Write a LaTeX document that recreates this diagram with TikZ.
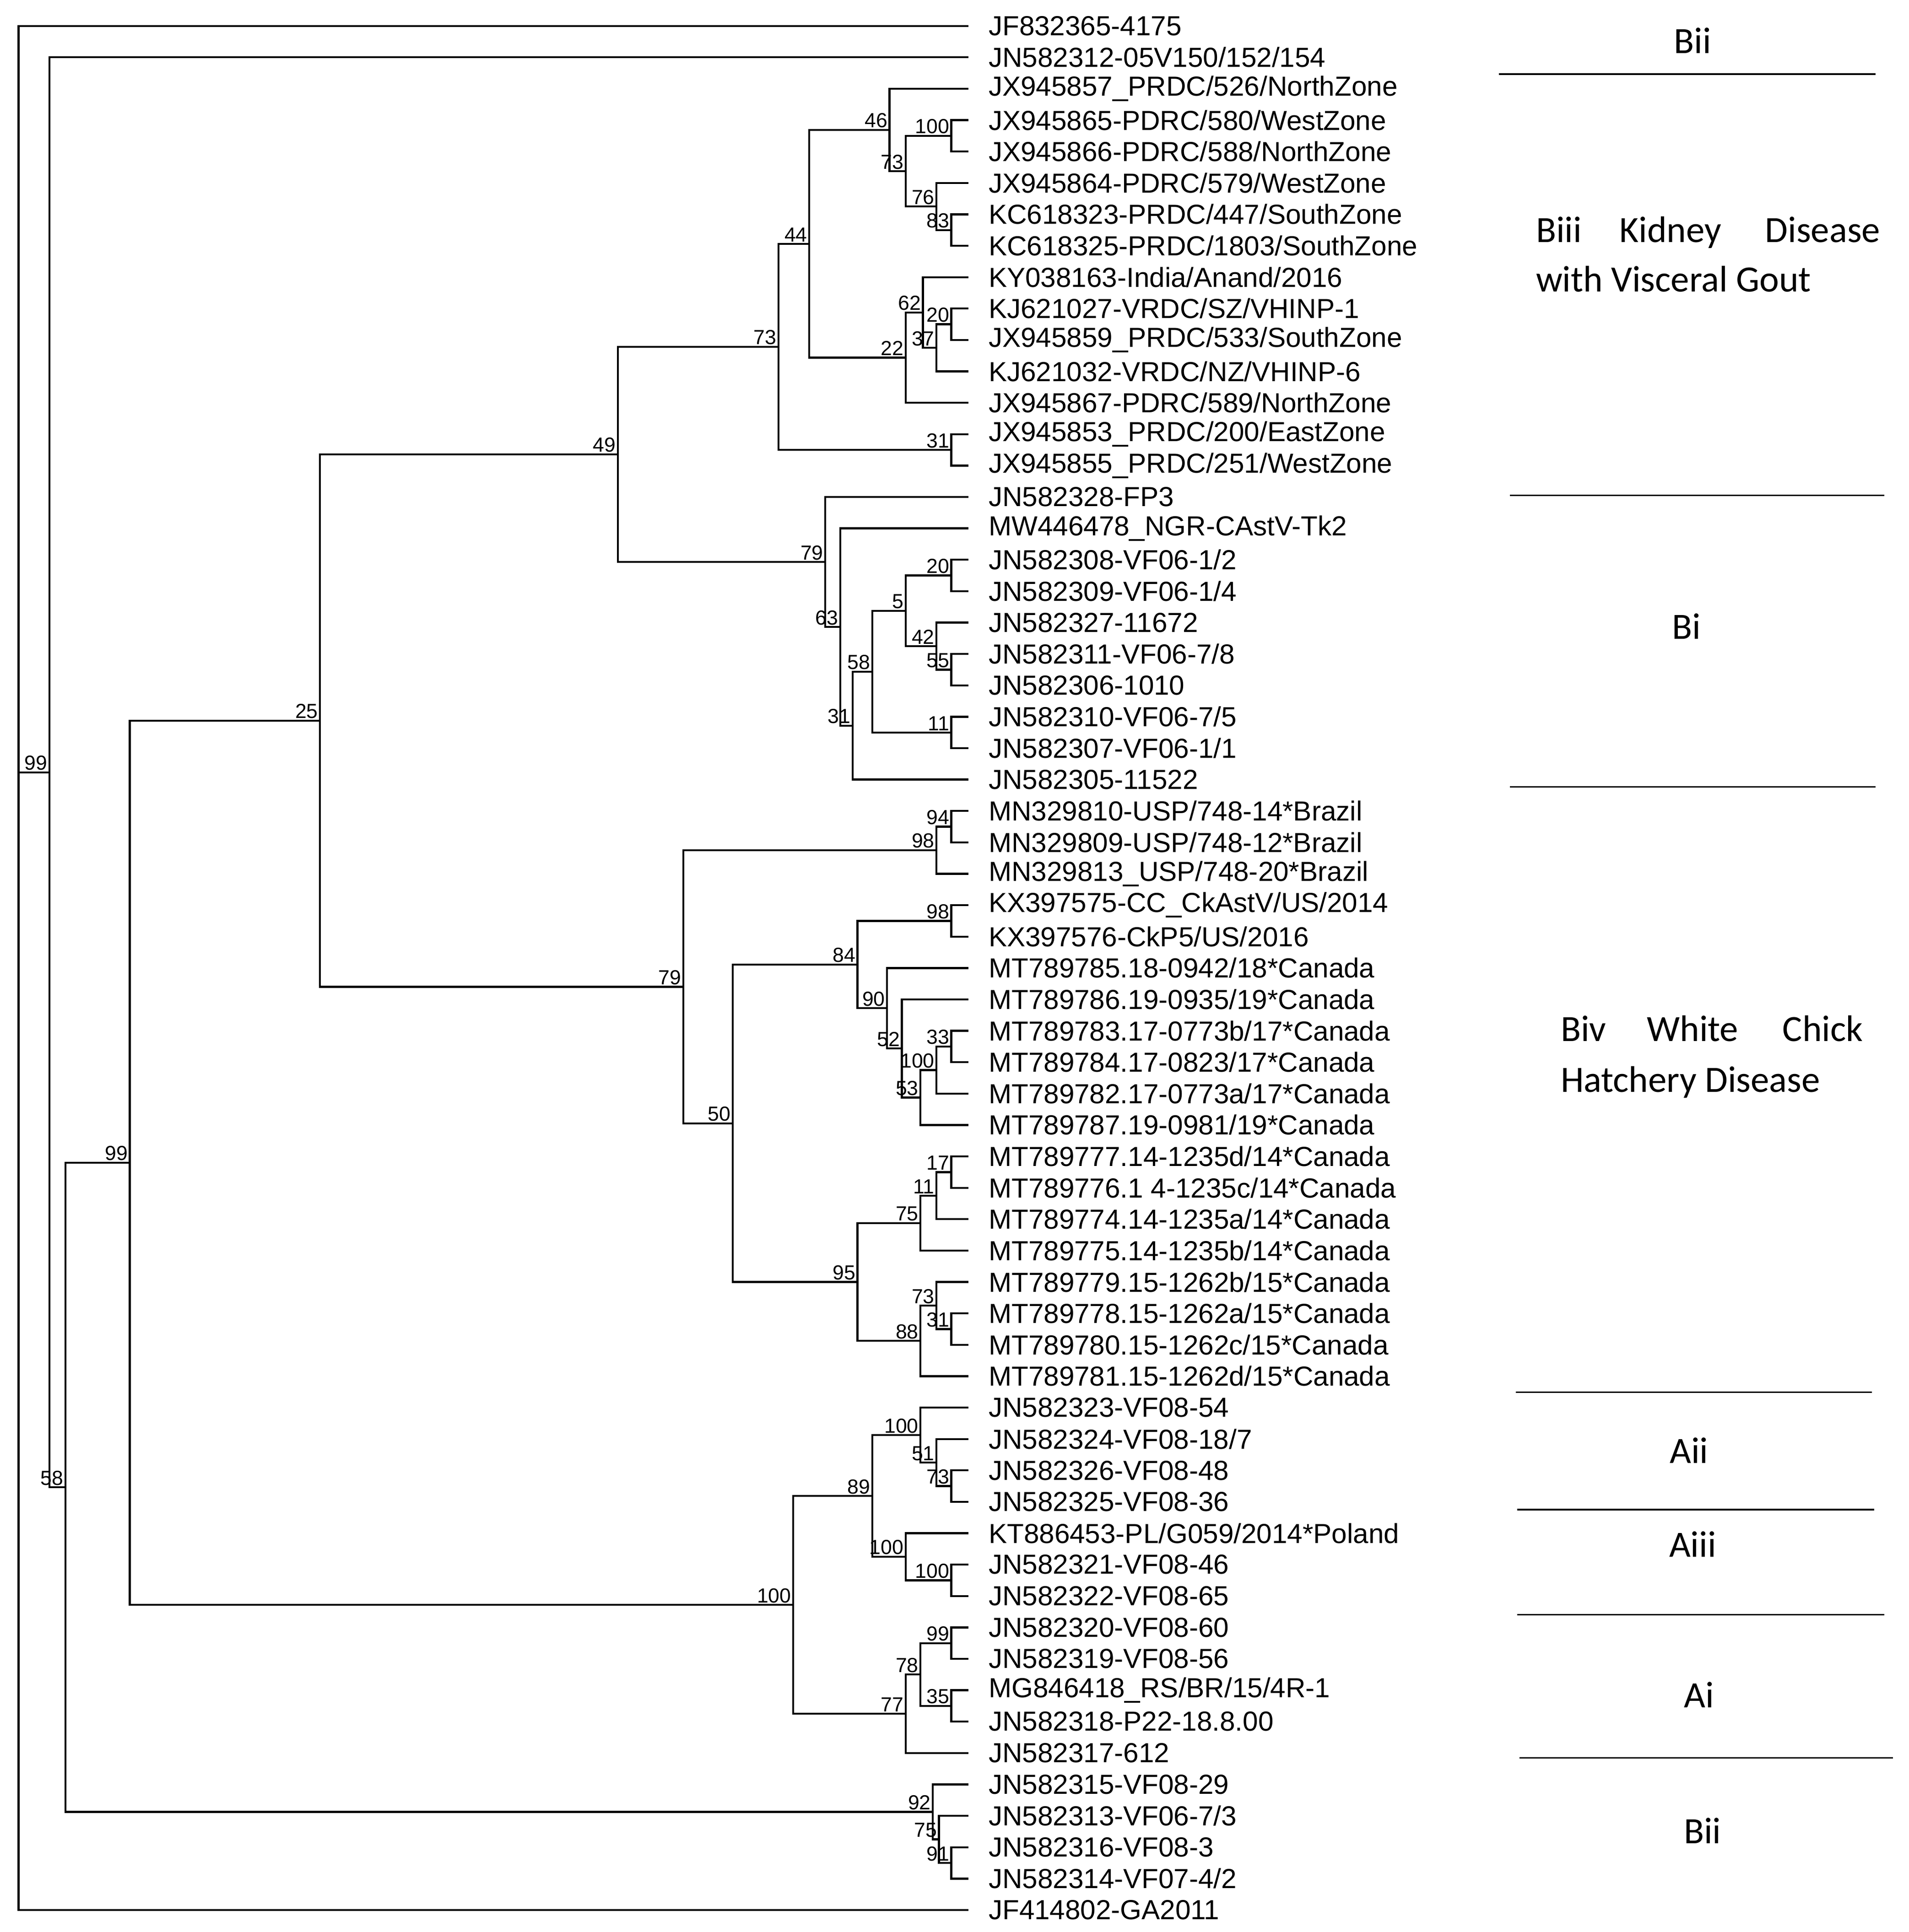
\documentclass[tikz,border=0pt]{standalone}
\usepackage{fontspec}
\setmainfont{Liberation Sans}
\newfontfamily\grpfont{Carlito}
\usetikzlibrary{calc}
\tikzset{
  br/.style={line width=1.6pt,line cap=rect},
  bs/.style={anchor=south east,inner sep=1.5pt,font=\fontsize{16.5}{18}\selectfont},
  leaflab/.style={anchor=west,inner sep=0pt,font=\fontsize{22.3}{25}\selectfont},
  grp/.style={inner sep=0pt,font=\grpfont\fontsize{30}{34}\selectfont},
  sep/.style={line width=1.3pt}
}
\newcommand\leaf[2]{\coordinate (L#1) at (783,{-(21+25.42*#1)});
  \node[leaflab] (T#1) at ($(L#1)+(17,0)$) {#2};}
\newcommand\jn[5]{\path let \p1=(#3),\p2=(#4) in coordinate (#1) at (#2pt,{0.5*(\y1+\y2)});
  \draw[br] (#3) -| (#1) |- (#4);
  \node[bs] (B#1) at (#1) {#5};}
\begin{document}
\begin{tikzpicture}[x=1pt,y=1pt]
\useasboundingbox (0,0) rectangle (1545,-1564);
\leaf{0}{JF832365-4175}
\leaf{1}{JN582312-05V150/152/154}
\leaf{2}{JX945857\_PRDC/526/NorthZone}
\leaf{3}{JX945865-PDRC/580/WestZone}
\leaf{4}{JX945866-PDRC/588/NorthZone}
\leaf{5}{JX945864-PDRC/579/WestZone}
\leaf{6}{KC618323-PRDC/447/SouthZone}
\leaf{7}{KC618325-PRDC/1803/SouthZone}
\leaf{8}{KY038163-India/Anand/2016}
\leaf{9}{KJ621027-VRDC/SZ/VHINP-1}
\leaf{10}{JX945859\_PRDC/533/SouthZone}
\leaf{11}{KJ621032-VRDC/NZ/VHINP-6}
\leaf{12}{JX945867-PDRC/589/NorthZone}
\leaf{13}{JX945853\_PRDC/200/EastZone}
\leaf{14}{JX945855\_PRDC/251/WestZone}
\leaf{15}{JN582328-FP3}
\leaf{16}{MW446478\_NGR-CAstV-Tk2}
\leaf{17}{JN582308-VF06-1/2}
\leaf{18}{JN582309-VF06-1/4}
\leaf{19}{JN582327-11672}
\leaf{20}{JN582311-VF06-7/8}
\leaf{21}{JN582306-1010}
\leaf{22}{JN582310-VF06-7/5}
\leaf{23}{JN582307-VF06-1/1}
\leaf{24}{JN582305-11522}
\leaf{25}{MN329810-USP/748-14*Brazil}
\leaf{26}{MN329809-USP/748-12*Brazil}
\leaf{27}{MN329813\_USP/748-20*Brazil}
\leaf{28}{KX397575-CC\_CkAstV/US/2014}
\leaf{29}{KX397576-CkP5/US/2016}
\leaf{30}{MT789785.18-0942/18*Canada}
\leaf{31}{MT789786.19-0935/19*Canada}
\leaf{32}{MT789783.17-0773b/17*Canada}
\leaf{33}{MT789784.17-0823/17*Canada}
\leaf{34}{MT789782.17-0773a/17*Canada}
\leaf{35}{MT789787.19-0981/19*Canada}
\leaf{36}{MT789777.14-1235d/14*Canada}
\leaf{37}{MT789776.1 4-1235c/14*Canada}
\leaf{38}{MT789774.14-1235a/14*Canada}
\leaf{39}{MT789775.14-1235b/14*Canada}
\leaf{40}{MT789779.15-1262b/15*Canada}
\leaf{41}{MT789778.15-1262a/15*Canada}
\leaf{42}{MT789780.15-1262c/15*Canada}
\leaf{43}{MT789781.15-1262d/15*Canada}
\leaf{44}{JN582323-VF08-54}
\leaf{45}{JN582324-VF08-18/7}
\leaf{46}{JN582326-VF08-48}
\leaf{47}{JN582325-VF08-36}
\leaf{48}{KT886453-PL/G059/2014*Poland}
\leaf{49}{JN582321-VF08-46}
\leaf{50}{JN582322-VF08-65}
\leaf{51}{JN582320-VF08-60}
\leaf{52}{JN582319-VF08-56}
\leaf{53}{MG846418\_RS/BR/15/4R-1}
\leaf{54}{JN582318-P22-18.8.00}
\leaf{55}{JN582317-612}
\leaf{56}{JN582315-VF08-29}
\leaf{57}{JN582313-VF06-7/3}
\leaf{58}{JN582316-VF08-3}
\leaf{59}{JN582314-VF07-4/2}
\leaf{60}{JF414802-GA2011}
% Biii
\jn{a1}{770}{L3}{L4}{100}
\jn{a2}{770}{L6}{L7}{83}
\jn{a3}{758}{L5}{a2}{76}
\jn{a4}{733}{a1}{a3}{73}
\jn{a5}{720}{L2}{a4}{46}
\jn{a6}{770}{L9}{L10}{20}
\jn{a7}{758}{a6}{L11}{37}
\jn{a8}{747}{L8}{a7}{62}
\jn{a9}{733}{a8}{L12}{22}
\jn{a10}{655}{a5}{a9}{44}
\jn{a11}{770}{L13}{L14}{31}
\jn{a12}{630}{a10}{a11}{73}
% Bi
\jn{b1}{770}{L17}{L18}{20}
\jn{b2}{770}{L20}{L21}{55}
\jn{b3}{758}{L19}{b2}{42}
\jn{b4}{733}{b1}{b3}{5}
\jn{b5}{770}{L22}{L23}{11}
\jn{b6}{706}{b4}{b5}{58}
\jn{b7}{690}{b6}{L24}{31}
\jn{b8}{680}{L16}{b7}{63}
\jn{b9}{668}{L15}{b8}{79}
\jn{c1}{500}{a12}{b9}{49}
% Biv
\jn{d1}{770}{L25}{L26}{94}
\jn{d2}{758}{d1}{L27}{98}
\jn{d3}{770}{L28}{L29}{98}
\jn{d4}{770}{L32}{L33}{33}
\jn{d5}{758}{d4}{L34}{100}
\jn{d6}{745}{d5}{L35}{53}
\jn{d7}{730}{L31}{d6}{52}
\jn{d8}{718}{L30}{d7}{90}
\jn{d9}{694}{d3}{d8}{84}
\jn{d10}{770}{L36}{L37}{17}
\jn{d11}{758}{d10}{L38}{11}
\jn{d12}{745}{d11}{L39}{75}
\jn{d13}{770}{L41}{L42}{31}
\jn{d14}{758}{L40}{d13}{73}
\jn{d15}{745}{d14}{L43}{88}
\jn{d16}{694}{d12}{d15}{95}
\jn{d17}{593}{d9}{d16}{50}
\jn{d18}{553}{d2}{d17}{79}
\jn{e1}{259}{c1}{d18}{25}
% A
\jn{f1}{770}{L46}{L47}{73}
\jn{f2}{758}{L45}{f1}{51}
\jn{f3}{745}{L44}{f2}{100}
\jn{f4}{770}{L49}{L50}{100}
\jn{f5}{733}{L48}{f4}{100}
\jn{f6}{706}{f3}{f5}{89}
\jn{f7}{770}{L51}{L52}{99}
\jn{f8}{770}{L53}{L54}{35}
\jn{f9}{745}{f7}{f8}{78}
\jn{f10}{733}{f9}{L55}{77}
\jn{f11}{642}{f6}{f10}{100}
\jn{g1}{105}{e1}{f11}{99}
% Bii bottom
\jn{h1}{770}{L58}{L59}{91}
\jn{h2}{760}{L57}{h1}{75}
\jn{h3}{755}{L56}{h2}{92}
\jn{g2}{53}{g1}{h3}{58}
\jn{g3}{40}{L1}{g2}{99}
% root
\path (15,0 |- g3) coordinate (R);
\draw[br] (L0) -| (R) |- (L60);
\draw[br] (R) -- (g3);
% groups
\node[grp] (G1) at (1370,-33) {Bii};
\draw[sep] (1213,-60) coordinate (s1a) -- (1518,-60) coordinate (s1b);
\node[grp,anchor=base west] (G2a) at (1243,-196) {Biii};
\node[grp,anchor=base] (G2b) at (1352,-196) {Kidney};
\node[grp,anchor=base east] (G2c) at (1522,-196) {Disease};
\node[grp,anchor=base west] (G2d) at (1243,-236) {with Visceral Gout};
\draw[sep] (1222,-401) coordinate (s2a) -- (1525,-401) coordinate (s2b);
\node[grp] (G3) at (1365,-507) {Bi};
\draw[sep] (1222,-637) coordinate (s3a) -- (1518,-637) coordinate (s3b);
\node[grp,anchor=base west] (G4a) at (1263,-843) {Biv};
\node[grp,anchor=base] (G4b) at (1370,-843) {White};
\node[grp,anchor=base east] (G4c) at (1508,-843) {Chick};
\node[grp,anchor=base west] (G4d) at (1263,-884) {Hatchery Disease};
\draw[sep] (1227,-1127) coordinate (s4a) -- (1515,-1127) coordinate (s4b);
\node[grp] (G5) at (1367,-1174) {Aii};
\draw[sep] (1228,-1222) coordinate (s5a) -- (1517,-1222) coordinate (s5b);
\node[grp] (G6) at (1370,-1250) {Aiii};
\draw[sep] (1228,-1307) coordinate (s6a) -- (1525,-1307) coordinate (s6b);
\node[grp] (G7) at (1375,-1372) {Ai};
\draw[sep] (1230,-1423) coordinate (s7a) -- (1532,-1423) coordinate (s7b);
\node[grp] (G8) at (1378,-1482) {Bii};
\end{tikzpicture}
\end{document}
